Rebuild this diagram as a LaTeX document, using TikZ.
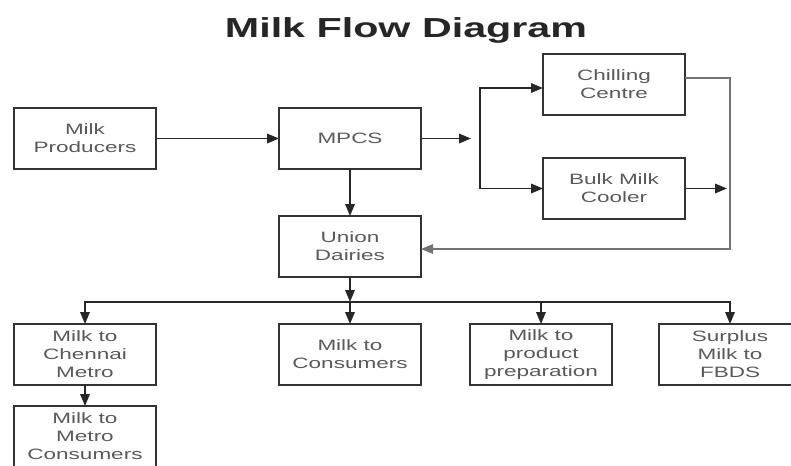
\documentclass[tikz,border=0pt]{standalone}
\usepackage{fontspec}
\setmainfont[FakeStretch=1.5]{Liberation Sans}
\usetikzlibrary{positioning,arrows.meta}

\begin{document}
\begin{tikzpicture}[x=1pt,y=-1pt,
    box/.style={draw=black!80, line width=1.7pt, minimum width=142pt, minimum height=61pt,
      inner sep=0pt, outer sep=0pt, align=center, text=black!65,
      font=\fontsize{15}{18}\selectfont},
    flow/.style={draw=black!85, line width=1.7pt, -{Triangle[length=12pt,width=9.5pt]}},
    back/.style={flow, draw=black!55, line width=1.4pt},
  ]
  \useasboundingbox (0,0) rectangle (791,465);

  \node [anchor=base, text=black!85, font=\fontsize{27.5}{30}\selectfont\bfseries] (title) at (406,38) {Milk Flow Diagram};

  \node [box] (prod) at (85,138.5) {Milk\\Producers};
  \node [box, right=123pt of prod] (mpcs) {MPCS};
  \node [box, right=122pt of mpcs, yshift=54pt] (chill) {Chilling\\Centre};
  \node [box, below=43pt of chill] (bulk) {Bulk Milk\\Cooler};
  \node [box, below=47pt of mpcs] (union) {Union\\Dairies};
  \node [box, below=47pt of union] (cons) {Milk to\\Consumers};
  \node [box, left=123pt of cons] (chennai) {Milk to\\Chennai\\Metro};
  \node [box, right=49pt of cons] (product) {Milk to\\product\\preparation};
  \node [box, right=47pt of product] (surplus) {Surplus\\Milk to\\FBDS};
  \node [box, below=21pt of chennai] (metro) {Milk to\\Metro\\Consumers};

  \coordinate (mid) at (471,138.5);
  \coordinate (split) at (480,138.5);
  \coordinate (rc) at (730,249);
  \coordinate (bus) at (350,302);

  \draw [flow] (prod) -- (mpcs);
  \draw [flow] (mpcs) -- (mid);
  \draw [flow] (split) |- ([yshift=-3.5pt]chill.west);
  \draw [flow] (split) |- (bulk);
  \draw [flow] (mpcs) -- (union);
  \draw [back] ([yshift=6.5pt]chill.east) -| (rc) -- (union.east |- rc);
  \draw [flow] (bulk) -- ([xshift=-3pt]rc |- bulk);

  % distribution from the union
  \draw [flow] (union) -- (bus);
  \draw [flow] (bus) -| (chennai);
  \draw [flow] (bus) -- (cons);
  \draw [flow] (bus) -| (product);
  \draw [flow] (bus) -| (surplus);
  \draw [flow] (chennai) -- (metro);
\end{tikzpicture}
\end{document}
